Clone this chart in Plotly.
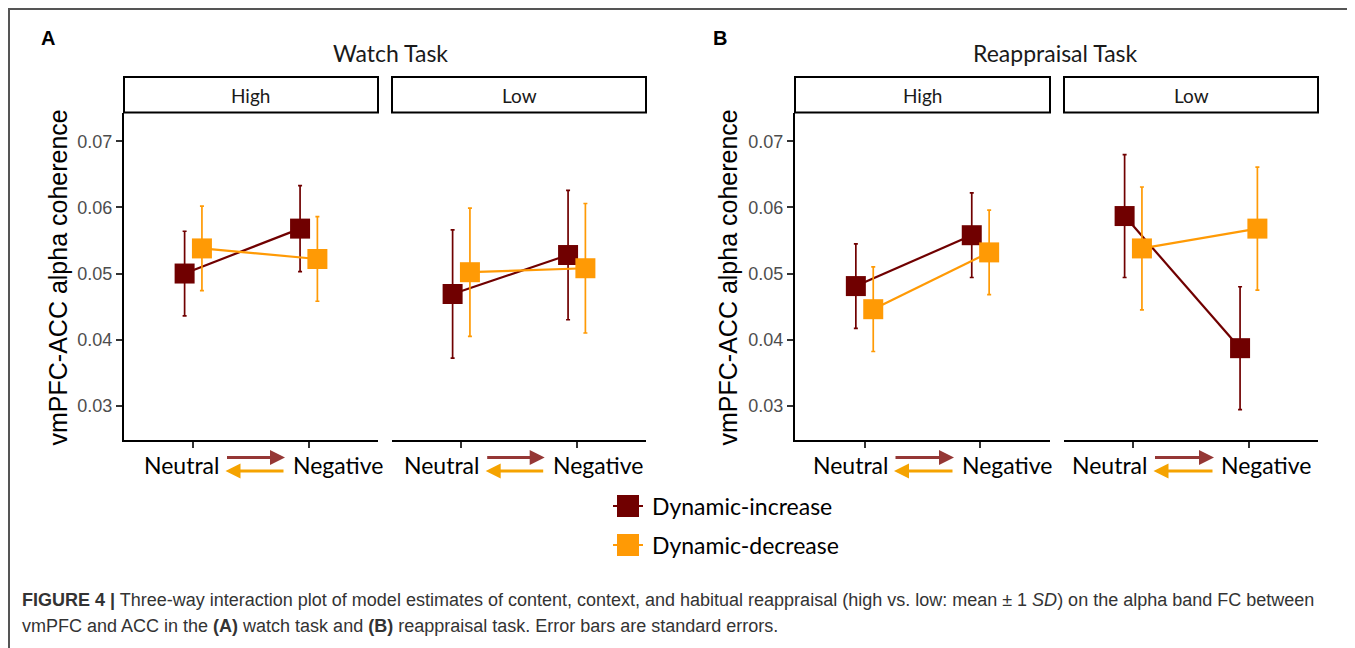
import plotly.graph_objects as go

# ---------------- data ----------------
content = ["Neutral", "Negative"]
series_names = ["Dynamic-increase", "Dynamic-decrease"]
y_ticks = [0.03, 0.04, 0.05, 0.06, 0.07]

watch_high_increase_mean = [0.0500, 0.0568]
watch_high_increase_se = [0.0064, 0.0065]
watch_high_decrease_mean = [0.0538, 0.0522]
watch_high_decrease_se = [0.0064, 0.0064]

watch_low_increase_mean = [0.0469, 0.0528]
watch_low_increase_se = [0.0097, 0.0098]
watch_low_decrease_mean = [0.0502, 0.0508]
watch_low_decrease_se = [0.0097, 0.0098]

reap_high_increase_mean = [0.0481, 0.0558]
reap_high_increase_se = [0.0064, 0.0064]
reap_high_decrease_mean = [0.0446, 0.0532]
reap_high_decrease_se = [0.0064, 0.0064]

reap_low_increase_mean = [0.0587, 0.0387]
reap_low_increase_se = [0.0093, 0.0093]
reap_low_decrease_mean = [0.0538, 0.0568]
reap_low_decrease_se = [0.0093, 0.0093]

panel_data = [
    (watch_high_increase_mean, watch_high_increase_se, watch_high_decrease_mean, watch_high_decrease_se),
    (watch_low_increase_mean, watch_low_increase_se, watch_low_decrease_mean, watch_low_decrease_se),
    (reap_high_increase_mean, reap_high_increase_se, reap_high_decrease_mean, reap_high_decrease_se),
    (reap_low_increase_mean, reap_low_increase_se, reap_low_decrease_mean, reap_low_decrease_se),
]
strip_labels = ["High", "Low", "High", "Low"]

# ---------------- styling / layout ----------------
# the page body has an 8px margin, so the figure is placed at (8, 8)
OFF = 8
W, H = 1355 - OFF, 648 - OFF
def X(px):
    return (px - OFF) / W
def Y(py):
    return 1 - (py - OFF) / H

COL_INC = "#700000"
COL_DEC = "#FF9A05"
ARROW_INC = "#953735"
ARROW_DEC = "#F5A300"
TXT_FONT = "Lato, 'Open Sans', sans-serif"
ARIAL = "'Liberation Sans', Arial, sans-serif"

# left, right, Neutral right end, arrow left, arrow right, Negative left start
panels = [
    dict(l=124, r=378, neu=221, a0=225.5, a1=285, neg=291),
    dict(l=392, r=646, neu=480.5, a0=485.7, a1=544.7, neg=550.7),
    dict(l=795, r=1050, neu=890, a0=894, a1=954, neg=960),
    dict(l=1064, r=1318, neu=1149, a0=1153.5, a1=1214, neg=1219),
]
PLOT_TOP, PLOT_BOT = 113, 440
STRIP_TOP = 77
YRANGE = [0.0248, 0.0743]

fig = go.Figure()
for i, (inc_m, inc_se, dec_m, dec_se) in enumerate(panel_data):
    ax_id = "" if i == 0 else str(i + 1)
    for name, m, se, col, og in [
        (series_names[0], inc_m, inc_se, COL_INC, "inc"),
        (series_names[1], dec_m, dec_se, COL_DEC, "dec"),
    ]:
        fig.add_trace(go.Scatter(
            x=content, y=m, name=name, mode="lines+markers",
            offsetgroup=og, showlegend=False,
            xaxis="x" + ax_id, yaxis="y" + ax_id,
            line=dict(color=col, width=2.2),
            marker=dict(symbol="square", size=20, color=col, line=dict(width=0)),
            error_y=dict(type="data", array=se, visible=True, color=col,
                         thickness=1.7, width=2),
        ))

layout = dict(
    width=W, height=H, margin=dict(l=0, r=0, t=0, b=0),
    paper_bgcolor="white", plot_bgcolor="white",
    scattermode="group", scattergap=0.7,
    showlegend=False,
)
shapes = []
annotations = []
for i, p in enumerate(panels):
    ax_id = "" if i == 0 else str(i + 1)
    first = (i % 2 == 0)
    layout["xaxis" + ax_id] = dict(
        domain=[X(p["l"]), X(p["r"])], anchor="y" + ax_id,
        type="category", categoryorder="array", categoryarray=content,
        range=[-0.6, 1.6], showgrid=False, zeroline=False,
        showline=True, linecolor="black", linewidth=2,
        ticks="outside", ticklen=6, tickwidth=1.5, tickcolor="#333",
        showticklabels=False, fixedrange=True,
    )
    layout["yaxis" + ax_id] = dict(
        domain=[Y(PLOT_BOT), Y(PLOT_TOP)], anchor="x" + ax_id,
        range=YRANGE, tickvals=y_ticks, tickformat=".2f",
        showgrid=False, zeroline=False,
        showline=first, linecolor="black", linewidth=2,
        ticks="outside" if first else "", ticklen=6, tickwidth=1.5, tickcolor="#333",
        showticklabels=first, tickfont=dict(family=ARIAL, size=18, color="#4D4D4D"),
        fixedrange=True,
    )
    # strip
    shapes.append(dict(type="rect", xref="paper", yref="paper",
                       x0=X(p["l"]), x1=X(p["r"]), y0=Y(PLOT_TOP - 0.5), y1=Y(STRIP_TOP),
                       line=dict(color="black", width=2), fillcolor="white"))
    annotations.append(dict(text=strip_labels[i], x=X((p["l"] + p["r"]) / 2), y=Y(95),
                            xref="paper", yref="paper", showarrow=False,
                            xanchor="center", yanchor="middle",
                            font=dict(family=TXT_FONT, size=19, color="#1a1a1a")))
    # x labels with arrows
    annotations.append(dict(text="Neutral", x=X(p["neu"]), y=Y(465), xref="paper", yref="paper",
                            showarrow=False, xanchor="right", yanchor="middle",
                            font=dict(family=TXT_FONT, size=23, color="black")))
    annotations.append(dict(text="Negative", x=X(p["neg"]), y=Y(465), xref="paper", yref="paper",
                            showarrow=False, xanchor="left", yanchor="middle",
                            font=dict(family=TXT_FONT, size=23, color="black")))
    alen = p["a1"] - p["a0"]
    annotations.append(dict(text="", x=X(p["a1"]), y=Y(457.5), xref="paper", yref="paper",
                            showarrow=True, ax=-alen, ay=0, axref="pixel", ayref="pixel",
                            arrowhead=2, arrowsize=1, arrowwidth=3, arrowcolor=ARROW_INC))
    annotations.append(dict(text="", x=X(p["a0"]), y=Y(471), xref="paper", yref="paper",
                            showarrow=True, ax=alen, ay=0, axref="pixel", ayref="pixel",
                            arrowhead=2, arrowsize=1, arrowwidth=3, arrowcolor=ARROW_DEC))

# panel titles, letters, y titles
for letter, lx, title, tx, ytx in [("A", 48, "Watch Task", 390, 57),
                                   ("B", 720, "Reappraisal Task", 1055, 727)]:
    annotations.append(dict(text="<b>" + letter + "</b>", x=X(lx), y=Y(38), xref="paper", yref="paper",
                            showarrow=False, xanchor="center", yanchor="middle",
                            font=dict(family=ARIAL, size=20, color="black")))
    annotations.append(dict(text=title, x=X(tx), y=Y(53), xref="paper", yref="paper",
                            showarrow=False, xanchor="center", yanchor="middle",
                            font=dict(family=TXT_FONT, size=23, color="#1a1a1a")))
    annotations.append(dict(text="vmPFC-ACC alpha coherence", x=X(ytx), y=Y(277.5),
                            xref="paper", yref="paper", showarrow=False, textangle=-90,
                            xanchor="center", yanchor="middle",
                            font=dict(family=ARIAL, size=25, color="black")))

# legend (manual)
for name, col, ly in [(series_names[0], COL_INC, 506), (series_names[1], COL_DEC, 545)]:
    shapes.append(dict(type="line", xref="paper", yref="paper", x0=X(613), x1=X(643),
                       y0=Y(ly), y1=Y(ly), line=dict(color=col, width=2)))
    shapes.append(dict(type="rect", xref="paper", yref="paper", x0=X(617), x1=X(639),
                       y0=Y(ly + 11), y1=Y(ly - 11), line=dict(width=0), fillcolor=col))
    annotations.append(dict(text=name, x=X(650), y=Y(ly), xref="paper", yref="paper",
                            showarrow=False, xanchor="left", yanchor="middle",
                            font=dict(family=TXT_FONT, size=23, color="black")))

# caption
cap1 = ("<b>FIGURE 4 |</b> Three-way interaction plot of model estimates of content, context, and "
        "habitual reappraisal (high vs. low: mean ± 1 <i>SD</i>) on the alpha band FC between")
cap2 = ("vmPFC and ACC in the <b>(A)</b> watch task and <b>(B)</b> reappraisal task. "
        "Error bars are standard errors.")
for txt, cy in [(cap1, 600), (cap2, 626)]:
    annotations.append(dict(text=txt, x=X(20), y=Y(cy), xref="paper", yref="paper",
                            showarrow=False, xanchor="left", yanchor="middle",
                            font=dict(family=ARIAL, size=18, color="#333333")))

# frame border
shapes.append(dict(type="line", xref="paper", yref="paper", x0=X(8), x1=1, y0=Y(9), y1=Y(9),
                   line=dict(color="#555555", width=2)))
shapes.append(dict(type="line", xref="paper", yref="paper", x0=X(9), x1=X(9), y0=Y(9), y1=0,
                   line=dict(color="#555555", width=2)))

layout["shapes"] = shapes
layout["annotations"] = annotations
fig.update_layout(**layout)
fig.write_html("out.html")
